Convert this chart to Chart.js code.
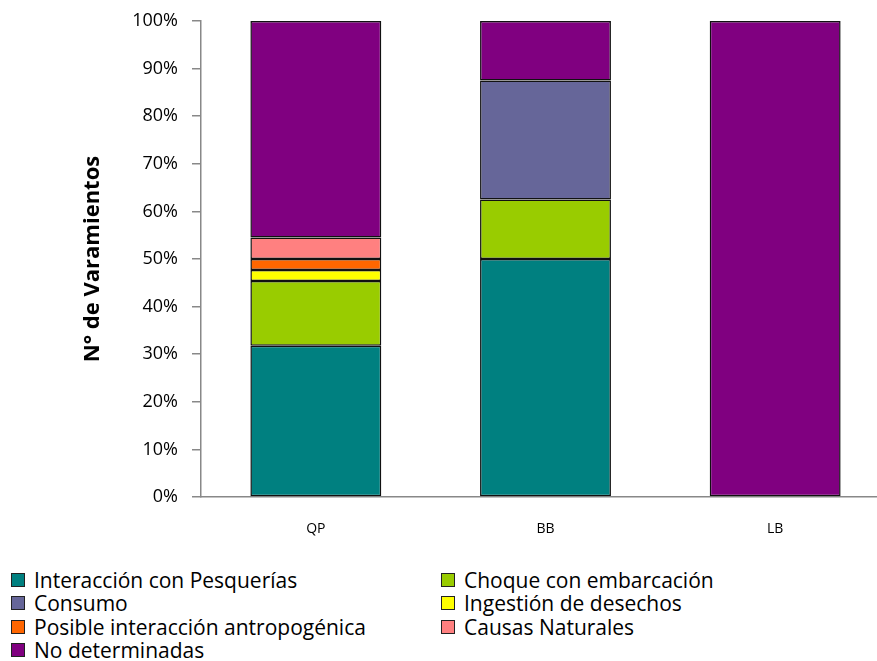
<!DOCTYPE html>
<html>
<head>
<meta charset="utf-8">
<script src="https://cdn.jsdelivr.net/npm/chart.js@4"></script>
<style>
  html, body { margin: 0; padding: 0; background: #fff; overflow: hidden; }
  body { width: 877px; height: 661px; position: relative; font-family: "Open Sans", Lato, sans-serif; }
  #chart { position: absolute; left: 0; top: 0; }
  #legend {
    position: absolute; left: 11px; top: 568px;
    display: grid; grid-template-columns: 430px 420px;
    row-gap: 0; font-size: 21px; color: #000;
  }
  .item { display: flex; align-items: center; height: 23.5px; white-space: nowrap; }
  .box { width: 12px; height: 12px; border: 1.5px solid #222; margin-right: 9px; flex: none; }
</style>
</head>
<body>
<canvas id="chart" width="900" height="560"></canvas>
<div id="legend"></div>
<script>
const categories = ['QP', 'BB', 'LB'];

// null = no segment in that bar
const pesquerias = [31.8, 50.0, null];
const choque     = [13.6, 12.5, null];
const consumo    = [null, 25.0, null];
const ingestion  = [2.3, null, null];
const posible    = [2.3, null, null];
const naturales  = [4.5, null, null];
const noDeterm   = [45.5, 12.5, 100];

const yTicks = [0, 10, 20, 30, 40, 50, 60, 70, 80, 90, 100];

const seriesNames = [
    'Interacción con Pesquerías', 'Choque con embarcación', 'Consumo',
    'Ingestión de desechos', 'Posible interacción antropogénica',
    'Causas Naturales', 'No determinadas'
];
const seriesColors = ['#008080', '#99CC00', '#666699', '#FFFF00', '#FF6600', '#FF8080', '#800080'];
const seriesData = [pesquerias, choque, consumo, ingestion, posible, naturales, noDeterm];

const FONT = '"Open Sans", Lato, sans-serif';

const datasets = seriesNames.map((name, i) => ({
    label: name,
    data: seriesData[i],
    backgroundColor: seriesColors[i],
    borderColor: '#111',
    borderWidth: 1.5,
    borderSkipped: false,
    categoryPercentage: 1.0,
    barPercentage: 0.57
}));

const chart = new Chart(document.getElementById('chart'), {
    type: 'bar',
    data: { labels: categories, datasets: datasets },
    options: {
        responsive: false,
        animation: false,
        devicePixelRatio: 1,
        layout: { padding: { top: 21, left: 0, right: 10, bottom: 0 } },
        plugins: { legend: { display: false }, tooltip: { enabled: false } },
        scales: {
            x: {
                stacked: true,
                grid: { display: false, drawTicks: false },
                border: { color: '#888', width: 1.5 },
                ticks: { color: '#000', font: { family: FONT, size: 14 }, padding: 24 },
                afterFit: s => { s.height = 63; }
            },
            y: {
                stacked: true,
                min: 0, max: 100,
                afterBuildTicks: s => { s.ticks = yTicks.map(v => ({ value: v })); },
                grid: { drawOnChartArea: false, drawTicks: true, tickLength: 9, color: '#888', lineWidth: 1.5 },
                border: { color: '#888', width: 1.5 },
                ticks: {
                    color: '#000', font: { family: FONT, size: 18 }, padding: 14,
                    callback: v => v + '%'
                },
                title: {
                    display: true, text: 'N° de Varamientos', color: '#000',
                    font: { family: FONT, size: 22, weight: 'bold' },
                    padding: { top: 80, bottom: 0 }
                },
                afterFit: s => { s.width = 201; s.paddingTop = 0; s.paddingBottom = 0; }
            }
        }
    }
});

// legend in two columns, like the original
const legend = document.getElementById('legend');
chart.data.datasets.forEach(ds => {
    const item = document.createElement('div');
    item.className = 'item';
    const box = document.createElement('span');
    box.className = 'box';
    box.style.background = ds.backgroundColor;
    item.appendChild(box);
    item.appendChild(document.createTextNode(ds.label));
    legend.appendChild(item);
});
</script>
</body>
</html>
